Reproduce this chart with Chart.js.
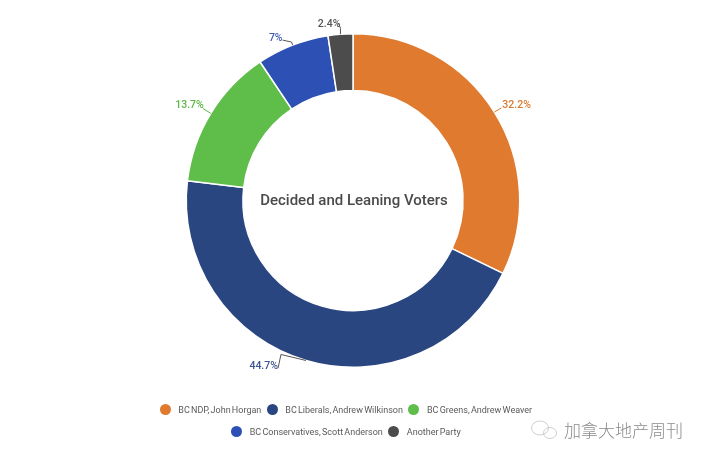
<!DOCTYPE html>
<html>
<head>
<meta charset="utf-8">
<script src="https://cdn.jsdelivr.net/npm/chart.js@4"></script>
<style>
  html, body { margin: 0; padding: 0; background: #fff; }
  #wrap { position: relative; width: 706px; height: 462px; overflow: hidden; }
  #legend { position: absolute; left: -7px; top: 398.5px; width: 706px; font: 9px Roboto, sans-serif; color: #5a5a5a; word-spacing: -1px; }
  .row { display: flex; justify-content: center; height: 22px; align-items: center; }
  .item { display: flex; align-items: center; margin: 0 2.75px; }
  .dot { width: 11px; height: 11px; border-radius: 50%; margin-right: 7.5px; }
</style>
</head>
<body>
<div id="wrap">
  <canvas id="chart" width="706" height="462"></canvas>
  <div id="legend"></div>
</div>
<script>
'use strict';

const categories = ["BC NDP, John Horgan", "BC Liberals, Andrew Wilkinson", "BC Greens, Andrew Weaver", "BC Conservatives, Scott Anderson", "Another Party"];
const shares = [32.2, 44.7, 13.7, 7, 2.4];
const shareLabels = ["32.2%", "44.7%", "13.7%", "7%", "2.4%"];
const colors = ["#df7a2e", "#2a4680", "#5fbd4a", "#2c50b3", "#4c4c4c"];
const labelColors = ["#d9792f", "#3d5590", "#58b944", "#3d5db8", "#555555"];
const lineColors = ["#d9792f", "#555555", "#58b944", "#555555", "#555555"];
const legendRows = [[0, 1, 2], [3, 4]];
const centerTitle = "Decided and Leaning Voters";
const watermark = "加拿大地产周刊";

// leader line bends and label anchors, relative to the point on the ring
const callouts = [
  { bends: [[7, -4]], label: [8, -7], align: "left" },
  { bends: [[-25, -6], [-28, 8]], label: [-28, 6], align: "right" },
  { bends: [[-8, -5]], label: [-7, -8], align: "right" },
  { bends: [[-1, -3], [-10, -5]], label: [-10, -7], align: "right" },
  { bends: [[0, -6], [-2, -11]], label: [0, -10], align: "right" }
];

const calloutPlugin = {
  id: "callouts",
  afterDatasetsDraw(chart) {
    const ctx = chart.ctx;
    ctx.save();
    chart.getDatasetMeta(0).data.forEach((arc, i) => {
      const mid = (arc.startAngle + arc.endAngle) / 2;
      const x = arc.x + arc.outerRadius * Math.cos(mid);
      const y = arc.y + arc.outerRadius * Math.sin(mid);
      const c = callouts[i];
      ctx.beginPath();
      ctx.moveTo(x, y);
      c.bends.forEach(b => ctx.lineTo(x + b[0], y + b[1]));
      ctx.strokeStyle = lineColors[i];
      ctx.lineWidth = 1;
      ctx.stroke();
      ctx.font = "500 10.5px Roboto, sans-serif";
      ctx.fillStyle = labelColors[i];
      ctx.textAlign = c.align;
      ctx.textBaseline = "middle";
      ctx.fillText(shareLabels[i], x + c.label[0], y + c.label[1]);
    });
    const first = chart.getDatasetMeta(0).data[0];
    ctx.font = "500 15px Roboto, sans-serif";
    ctx.fillStyle = "#4a4a4a";
    ctx.textAlign = "center";
    ctx.fillText(centerTitle, first.x + 1, first.y + 1);
    ctx.restore();
  },
  afterDraw(chart) {
    const ctx = chart.ctx;
    ctx.save();
    // WeChat style mark in the corner
    ctx.strokeStyle = "#c4c4c4";
    ctx.lineWidth = 0.8;
    ctx.beginPath();
    ctx.ellipse(540, 428, 8.5, 7, 0, 0, Math.PI * 2);
    ctx.stroke();
    ctx.beginPath();
    ctx.ellipse(550, 433, 6.5, 5.5, 0, 0, Math.PI * 2);
    ctx.stroke();
    ctx.font = "300 17px 'Noto Sans CJK SC', sans-serif";
    ctx.fillStyle = "#8a8a8a";
    ctx.textAlign = "left";
    ctx.textBaseline = "middle";
    ctx.fillText(watermark, 564, 431);
    ctx.restore();
  }
};

new Chart(document.getElementById("chart"), {
  type: "doughnut",
  data: {
    labels: categories,
    datasets: [{
      data: shares,
      backgroundColor: colors,
      borderColor: "#fff",
      borderWidth: 1.5
    }]
  },
  options: {
    responsive: false,
    animation: false,
    cutout: "66%",
    layout: { padding: { top: 33, bottom: 94 } },
    plugins: { legend: { display: false }, tooltip: { enabled: false } }
  },
  plugins: [calloutPlugin]
});

const legend = document.getElementById("legend");
legendRows.forEach(row => {
  const rowEl = document.createElement("div");
  rowEl.className = "row";
  row.forEach(i => {
    const item = document.createElement("div");
    item.className = "item";
    const dot = document.createElement("span");
    dot.className = "dot";
    dot.style.background = colors[i];
    const text = document.createElement("span");
    text.textContent = categories[i];
    item.appendChild(dot);
    item.appendChild(text);
    rowEl.appendChild(item);
  });
  legend.appendChild(rowEl);
});
</script>
</body>
</html>
